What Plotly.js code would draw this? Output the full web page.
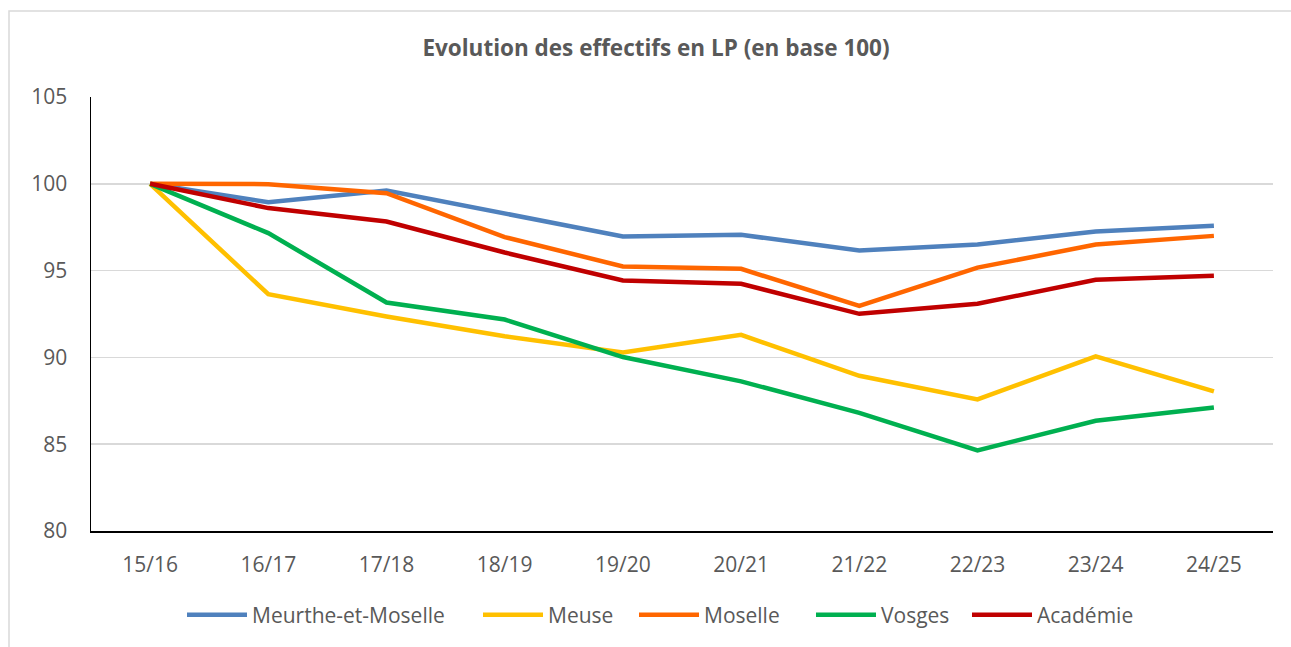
<!DOCTYPE html>
<html>
<head>
<meta charset="utf-8">
<script src="https://cdn.plot.ly/plotly-3.0.1.min.js"></script>
<style>
  html, body { margin: 0; padding: 0; background: #fff; }
  #chart { width: 1291px; height: 647px; }
</style>
</head>
<body>
<div id="chart"></div>
<script>
// Effectifs en LP, base 100 en 15/16
const years = ['15/16', '16/17', '17/18', '18/19', '19/20', '20/21', '21/22', '22/23', '23/24', '24/25'];

const meurthe  = [100, 98.94, 99.61, 98.31, 96.97, 97.06, 96.16, 96.50, 97.25, 97.58];
const meuse    = [100, 93.64, 92.36, 91.22, 90.28, 91.30, 88.94, 87.58, 90.06, 88.04];
const moselle  = [100, 99.98, 99.46, 96.93, 95.24, 95.10, 92.97, 95.17, 96.50, 97.00];
const vosges   = [100, 97.16, 93.16, 92.18, 90.02, 88.62, 86.80, 84.64, 86.35, 87.12];
const academie = [100, 98.60, 97.83, 96.04, 94.43, 94.24, 92.51, 93.09, 94.47, 94.70];

const seriesNames = ['Meurthe-et-Moselle', 'Meuse', 'Moselle', 'Vosges', 'Académie'];
const seriesValues = [meurthe, meuse, moselle, vosges, academie];
const seriesColors = ['#4f81bd', '#ffc000', '#ff6600', '#00b050', '#c00000'];

const FONT = '"Open Sans", Lato, sans-serif';
const TEXT = '#595959';

// plot area in pixels: x 91..1273, y 97..531
const PX = { l: 91, r: 1273, t: 97, b: 531 };
const px2x = (px) => (px - PX.l) / (PX.r - PX.l);
const px2y = (py) => (PX.b - py) / (PX.b - PX.t);

// one legend per series so each entry sits where the original has it
const legendLeft = [188, 484, 640, 817, 973];
const legendKeys = ['legend', 'legend2', 'legend3', 'legend4', 'legend5'];

const traces = seriesNames.map((name, i) => ({
  x: years,
  y: seriesValues[i],
  name,
  type: 'scatter',
  mode: 'lines',
  line: { color: seriesColors[i], width: 4.5 },
  legend: legendKeys[i],
  hoverinfo: 'skip',
}));

const layout = {
  width: 1291,
  height: 647,
  margin: { l: PX.l, r: 1291 - PX.r, t: PX.t, b: 647 - PX.b },
  paper_bgcolor: '#fff',
  plot_bgcolor: '#fff',
  font: { family: FONT, color: TEXT, size: 21 },
  title: {
    text: '<b>Evolution des effectifs en LP (en base 100)</b>',
    font: { family: FONT, size: 22.5, color: TEXT },
    x: 656 / 1291, xanchor: 'center',
    y: 1 - 48 / 647, yanchor: 'middle',
  },
  xaxis: {
    type: 'category',
    range: [-0.5, 9.5],
    showgrid: false,
    showline: true, linecolor: '#000', linewidth: 1.5,
    ticks: '', ticklabelstandoff: 14,
    tickfont: { family: FONT, size: 21, color: TEXT },
    fixedrange: true,
  },
  yaxis: {
    range: [80, 105],
    dtick: 5,
    showgrid: true, gridcolor: '#d9d9d9', gridwidth: 1.5,
    zeroline: false,
    showline: true, linecolor: '#000', linewidth: 1.5,
    ticks: '', ticklabelstandoff: 18,
    tickfont: { family: FONT, size: 21, color: TEXT },
    fixedrange: true,
  },
  showlegend: true,
  shapes: [{
    type: 'path', xref: 'paper', yref: 'paper',
    path: `M ${px2x(9)},${px2y(700)} L ${px2x(9)},${px2y(11)} L ${px2x(1300)},${px2y(11)}`,
    line: { color: '#d9d9d9', width: 1.5 },
  }],
};

legendKeys.forEach((key, i) => {
  layout[key] = {
    orientation: 'h',
    x: px2x(legendLeft[i] - 6), xanchor: 'left',
    y: px2y(615), yanchor: 'middle',
    font: { family: FONT, size: 21, color: TEXT },
    itemwidth: 60,
    bgcolor: 'rgba(0,0,0,0)',
  };
});

Plotly.newPlot('chart', traces, layout, { displayModeBar: false, staticPlot: true });
</script>
</body>
</html>
